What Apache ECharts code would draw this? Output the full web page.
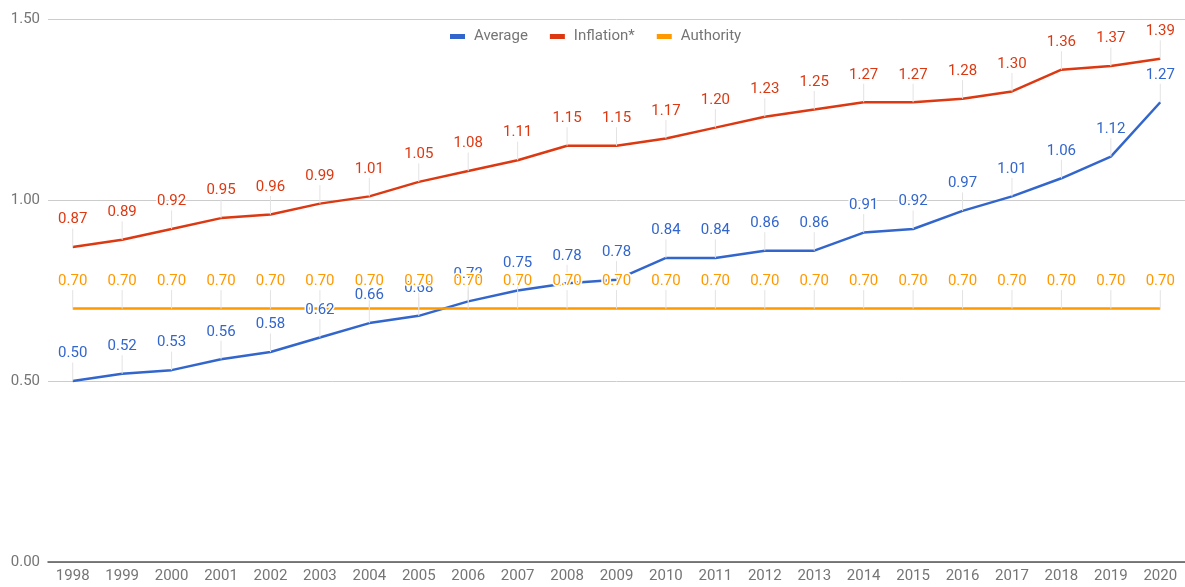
<!DOCTYPE html>
<html><head><meta charset="utf-8">
<script src="https://cdn.jsdelivr.net/npm/echarts@6/dist/echarts.min.js"></script>
<style>html,body{margin:0;padding:0;background:#fff}#c{width:1185px;height:587px}</style>
</head><body><div id="c"></div>
<script>
const years = ['1998','1999','2000','2001','2002','2003','2004','2005','2006','2007','2008','2009','2010','2011','2012','2013','2014','2015','2016','2017','2018','2019','2020'];
const average = [0.50,0.52,0.53,0.56,0.58,0.62,0.66,0.68,0.72,0.75,0.77,0.78,0.84,0.84,0.86,0.86,0.91,0.92,0.97,1.01,1.06,1.12,1.27];
const inflation = [0.87,0.89,0.92,0.95,0.96,0.99,1.01,1.05,1.08,1.11,1.15,1.15,1.17,1.20,1.23,1.25,1.27,1.27,1.28,1.30,1.36,1.37,1.39];
const authority = [0.70,0.70,0.70,0.70,0.70,0.70,0.70,0.70,0.70,0.70,0.70,0.70,0.70,0.70,0.70,0.70,0.70,0.70,0.70,0.70,0.70,0.70,0.70];
const avgLabels = ['0.50','0.52','0.53','0.56','0.58','0.62','0.66','0.68','0.72','0.75','0.78','0.78','0.84','0.84','0.86','0.86','0.91','0.92','0.97','1.01','1.06','1.12','1.27'];

const font = 'Roboto, "Noto Sans", sans-serif';
function mk(name, data, color, labels) {
  return {
    name, type: 'line', data, symbol: 'circle', symbolSize: 0.01, showSymbol: true,
    lineStyle: {color, width: 2.5}, itemStyle: {color},
    label: {show: true, position: 'top', distance: 2, color, fontFamily: font, fontSize: 15,
      textBorderColor: '#ffffff', textBorderWidth: 3,
      formatter: p => labels ? labels[p.dataIndex] : p.value.toFixed(2)},
    labelLayout: {dy: -18},
    labelLine: {show: true, lineStyle: {color: '#e3e3e3', width: 1}},
    emphasis: {disabled: true}, animation: false
  };
}
const chart = echarts.init(document.getElementById('c'));
chart.setOption({
  animation: false,
  legend: {top: 24, left: 445, itemWidth: 15, itemHeight: 5, itemGap: 22, icon: 'rect',
    textStyle: {color: '#757575', fontFamily: font, fontSize: 15, padding: [0, 0, 0, 4]},
    data: ['Average','Inflation*','Authority']},
  grid: {left: 48, right: 0, top: 19, bottom: 25, containLabel: false},
  xAxis: {type: 'category', data: years, boundaryGap: true,
    axisLine: {lineStyle: {color: '#555', width: 1.5}}, axisTick: {show: false},
    axisLabel: {color: '#757575', fontFamily: font, fontSize: 15, margin: 7, interval: 0}},
  yAxis: {type: 'value', min: 0, max: 1.5, interval: 0.5,
    axisLine: {show: false}, axisTick: {show: false},
    splitLine: {lineStyle: {color: '#cccccc'}},
    axisLabel: {color: '#757575', fontFamily: font, fontSize: 15, margin: 8, formatter: v => v.toFixed(2)}},
  series: [
    mk('Average', average, '#3366cc', avgLabels),
    mk('Inflation*', inflation, '#dc3912'),
    mk('Authority', authority, '#ff9900')
  ]
});
</script></body></html>
